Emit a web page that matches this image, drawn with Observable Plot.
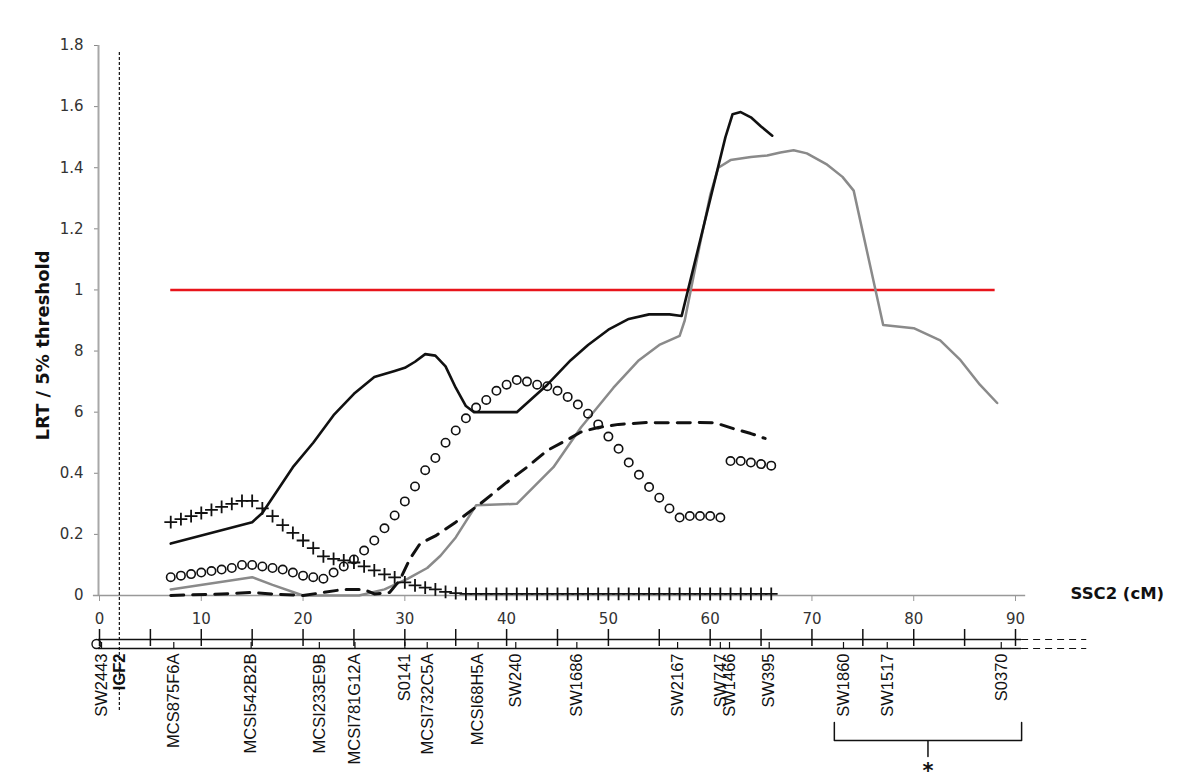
<!DOCTYPE html>
<html>
<head>
<meta charset="utf-8">
<script src="https://cdn.jsdelivr.net/npm/d3@7"></script>
<script src="https://cdn.jsdelivr.net/npm/@observablehq/plot@0.6"></script>
<style>
  html, body { margin: 0; padding: 0; background: #fff; }
</style>
</head>
<body>
<div id="chart"></div>
<script>
// ---------- axis ticks ----------
const yTicks = [0, 0.2, 0.4, 0.6, 0.8, 1, 1.2, 1.4, 1.6, 1.8];
const yTickLabels = ["0", "0.2", "0.4", "6", "8", "1", "1.2", "1.4", "1.6", "1.8"];
const xTicks = [0, 10, 20, 30, 40, 50, 60, 70, 80, 90];
const yLabel = "LRT / 5% threshold";
const xLabel = "SSC2 (cM)";

// ---------- threshold ----------
const thresholdValue = [1];
const thresholdFrom = 7;
const thresholdTo = 88;

// ---------- series: black solid ----------
const blackCM  = [7, 15, 16, 17, 19, 21, 23, 25, 27, 29, 30, 31, 32, 33, 34, 35, 36, 36.8, 41, 44, 46.3, 48, 50, 52, 54, 56, 57.2, 61.5, 62.2, 63, 64, 65, 66.1];
const blackLRT = [0.17, 0.24, 0.27, 0.32, 0.42, 0.50, 0.59, 0.66, 0.715, 0.735, 0.745, 0.765, 0.79, 0.785, 0.75, 0.68, 0.62, 0.60, 0.60, 0.69, 0.77, 0.82, 0.87, 0.905, 0.92, 0.92, 0.915, 1.50, 1.575, 1.582, 1.565, 1.535, 1.505];

// ---------- series: grey solid ----------
const greyCM  = [7, 15, 17, 20, 25.5, 28, 30.3, 32.2, 33.5, 35, 37, 41, 44.6, 47.3, 50.5, 53, 55, 57, 57.5, 59, 60, 60.8, 62, 64, 65.6, 66.9, 68.2, 69.5, 71.5, 73, 74.1, 77, 80, 82.6, 84.6, 86.5, 88.2];
const greyLRT = [0.02, 0.06, 0.035, 0.0, 0.0, 0.02, 0.055, 0.09, 0.13, 0.19, 0.295, 0.30, 0.42, 0.55, 0.68, 0.77, 0.82, 0.85, 0.90, 1.15, 1.31, 1.40, 1.425, 1.435, 1.44, 1.45, 1.457, 1.447, 1.41, 1.37, 1.325, 0.885, 0.875, 0.835, 0.77, 0.69, 0.63];

// ---------- series: black dashed ----------
const dashCM  = [7, 12, 15, 17, 20, 22, 24, 26, 27, 28.5, 29.5, 30.5, 31.5, 33, 35, 37.4, 40, 42, 44, 46, 47.3, 49, 51, 53.8, 56, 58.7, 60.5, 62.3, 64, 65.4];
const dashLRT = [0.0, 0.005, 0.01, 0.005, 0.0, 0.01, 0.02, 0.02, 0.005, 0.01, 0.05, 0.12, 0.17, 0.195, 0.24, 0.30, 0.37, 0.42, 0.475, 0.51, 0.535, 0.55, 0.56, 0.566, 0.565, 0.566, 0.565, 0.546, 0.53, 0.514];

// ---------- series: open circles ----------
const circleCM  = [7, 8, 9, 10, 11, 12, 13, 14, 15, 16, 17, 18, 19, 20, 21, 22, 23, 24, 25, 26, 27, 28, 29, 30, 31, 32, 33, 34, 35, 36, 37, 38, 39, 40, 41, 42, 43, 44, 45, 46, 47, 48, 49, 50, 51, 52, 53, 54, 55, 56, 57, 58, 59, 60, 61,
                   62, 63, 64, 65, 66];
const circleLRT = [0.06, 0.065, 0.07, 0.075, 0.08, 0.085, 0.09, 0.10, 0.10, 0.095, 0.09, 0.085, 0.075, 0.065, 0.06, 0.055, 0.075, 0.095, 0.118, 0.147, 0.18, 0.22, 0.262, 0.308, 0.357, 0.41, 0.45, 0.50, 0.54, 0.58, 0.615, 0.64, 0.67, 0.69, 0.705, 0.70, 0.69, 0.685, 0.67, 0.65, 0.625, 0.595, 0.56, 0.52, 0.48, 0.435, 0.395, 0.355, 0.32, 0.285, 0.255, 0.26, 0.26, 0.26, 0.255,
                   0.44, 0.44, 0.435, 0.43, 0.425];

// ---------- series: crosses ----------
const crossCM  = [7, 8, 9, 10, 11, 12, 13, 14, 15, 16, 17, 18, 19, 20, 21, 22, 23, 24, 25, 26, 27, 28, 29, 30, 31, 32, 33, 34, 35, 36, 37, 38, 39, 40, 41, 42, 43, 44, 45, 46, 47, 48, 49, 50, 51, 52, 53, 54, 55, 56, 57, 58, 59, 60, 61, 62, 63, 64, 65, 66];
const crossLRT = [0.24, 0.25, 0.26, 0.27, 0.28, 0.29, 0.30, 0.31, 0.31, 0.285, 0.26, 0.23, 0.205, 0.18, 0.155, 0.128, 0.12, 0.115, 0.108, 0.095, 0.082, 0.069, 0.059, 0.043, 0.033, 0.026, 0.02, 0.012, 0.008, 0.005, 0.005, 0.005, 0.005, 0.005, 0.005, 0.005, 0.005, 0.005, 0.005, 0.005, 0.005, 0.005, 0.005, 0.005, 0.005, 0.005, 0.005, 0.005, 0.005, 0.005, 0.005, 0.005, 0.005, 0.005, 0.005, 0.005, 0.005, 0.005, 0.005, 0.005];

// ---------- linkage map ----------
const markerNames = ["SW2443", "MCS875F6A", "MCSI542B2B", "MCSI233E9B", "MCSI781G12A", "S0141", "MCSI732C5A", "MCSI68H5A", "SW240", "SW1686", "SW2167", "SW747", "SW1466", "SW395", "SW1860", "SW1517", "S0370"];
const markerCM    = [0.2, 7.3, 14.9, 21.6, 25.1, 30.0, 32.2, 37.2, 40.9, 46.9, 56.8, 61.0, 61.9, 65.8, 73.1, 77.4, 88.6];
const geneName = ["IGF2"];
const geneCM = [1.95];
const mapTicks = [0, 5, 10, 15, 20, 25, 30, 35, 40, 45, 50, 55, 60, 65, 70, 75, 80, 85, 90];
const mapEndCM = 90.6;
const mapContinueCM = 97;
const braceFrom = 72.2, braceTo = 90.6, braceMid = 81.4;
const braceMark = "*";

// ---------- layout helper (pixel row below the axis -> y value) ----------
const Y0PX = 595, PX_PER_UNIT = 550 / 1.8;
const Y = py => (Y0PX - py) / PX_PER_UNIT;

const tbl = (xs, ys) => xs.map((x, i) => ({x, y: ys[i]}));
const blackData = tbl(blackCM, blackLRT);
const greyData = tbl(greyCM, greyLRT);
const dashData = tbl(dashCM, dashLRT);
const circleData = tbl(circleCM, circleLRT);
const crossData = tbl(crossCM, crossLRT);
const markers = markerNames.map((name, i) => ({name, cm: markerCM[i]}));
const genes = geneName.map((name, i) => ({name, cm: geneCM[i]}));
const brace = [
  {x: braceFrom, y: Y(722)}, {x: braceFrom, y: Y(740)}, {x: braceMid, y: Y(740)},
  {x: braceMid, y: Y(756)}, {x: braceMid, y: Y(740)}, {x: braceTo, y: Y(740)}, {x: braceTo, y: Y(722)}
];

const chart = Plot.plot({
  width: 1200,
  height: 783,
  marginLeft: 99,
  marginRight: 185,
  marginTop: 45,
  marginBottom: 188,
  x: {domain: [0, 90]},
  y: {domain: [0, 1.8]},
  style: {fontFamily: "'DejaVu Sans', sans-serif", background: "#ffffff", overflow: "visible"},
  marks: [
    // axes
    Plot.axisY(yTicks, {tickFormat: d => yTickLabels[yTicks.indexOf(d)], tickSize: 5, tickPadding: 11, fontSize: 15, stroke: "#888", fill: "#333", label: null}),
    Plot.axisX(xTicks, {tickSize: 6, tickPadding: 12, fontSize: 15, stroke: "#999", fill: "#333", label: null}),
    Plot.ruleX([0], {y1: 0, y2: 1.8, stroke: "#a8a8a8", strokeWidth: 2, dx: -1}),
    Plot.ruleY([0], {x1: -0.6, x2: 91, stroke: "#999", strokeWidth: 1.5}),
    Plot.text([yLabel], {frameAnchor: "left", textAnchor: "middle", rotate: -90, dx: -56, dy: 25, fontSize: 18, fontWeight: "bold", fill: "#111"}),
    Plot.text([xLabel], {frameAnchor: "bottom-right", textAnchor: "start", dx: 55, dy: 3, fontSize: 16.5, fontWeight: "bold", fill: "#111"}),

    // IGF2 dotted line
    Plot.ruleX(geneCM, {y1: Y(52), y2: Y(712), stroke: "#111", strokeWidth: 1.2, strokeDasharray: "3,2"}),

    // threshold
    Plot.ruleY(thresholdValue, {x1: thresholdFrom, x2: thresholdTo, stroke: "#e8141b", strokeWidth: 2.5}),

    // series
    Plot.line(greyData, {x: "x", y: "y", stroke: "#8a8a8a", strokeWidth: 2.5}),
    Plot.line(dashData, {x: "x", y: "y", stroke: "#111", strokeWidth: 3, strokeDasharray: "13,9"}),
    Plot.line(blackData, {x: "x", y: "y", stroke: "#111", strokeWidth: 2.6}),
    Plot.dot(circleData, {x: "x", y: "y", r: 4.2, stroke: "#111", strokeWidth: 1.6, fill: "none"}),
    Plot.dot(crossData, {x: "x", y: "y", symbol: "plus", r: 4.2, stroke: "#111", strokeWidth: 1.8}),

    // linkage map
    Plot.ruleY([Y(639)], {x1: -0.1, x2: mapEndCM, stroke: "#111", strokeWidth: 1.5}),
    Plot.ruleY([Y(648)], {x1: -0.1, x2: mapEndCM, stroke: "#111", strokeWidth: 1.5}),
    Plot.ruleY([Y(639), Y(648)], {x1: mapEndCM, x2: mapContinueCM, stroke: "#111", strokeWidth: 1.2, strokeDasharray: "7,5"}),
    Plot.dot([{x: 0, y: Y(643.5)}], {x: "x", y: "y", r: 4.5, stroke: "#111", strokeWidth: 1.4, fill: "none", dx: -3}),
    Plot.ruleX(mapTicks, {y1: Y(629), y2: Y(646), stroke: "#111", strokeWidth: 1.5}),
    Plot.ruleX(markers, {x: "cm", y1: Y(642), y2: Y(648), stroke: "#111", strokeWidth: 1.2}),
    Plot.text(markers, {x: "cm", y: Y(653), text: "name", rotate: -90, textAnchor: "end", lineAnchor: "middle", fontSize: 16.5, fontFamily: "'Liberation Sans', Arial, sans-serif", fill: "#111"}),
    Plot.text(genes, {x: "cm", y: Y(653), text: "name", rotate: -90, textAnchor: "end", lineAnchor: "middle", fontSize: 16.5, fontWeight: "bold", fontFamily: "'Liberation Sans', Arial, sans-serif", fill: "#111"}),

    // brace and star
    Plot.line(brace, {x: "x", y: "y", stroke: "#111", strokeWidth: 1.5}),
    Plot.text([braceMark], {x: [braceMid], y: [Y(771)], fontSize: 21, fontWeight: "bold", fill: "#111", fontFamily: "'DejaVu Sans', sans-serif"})
  ]
});

document.getElementById("chart").appendChild(chart);
</script>
</body>
</html>
